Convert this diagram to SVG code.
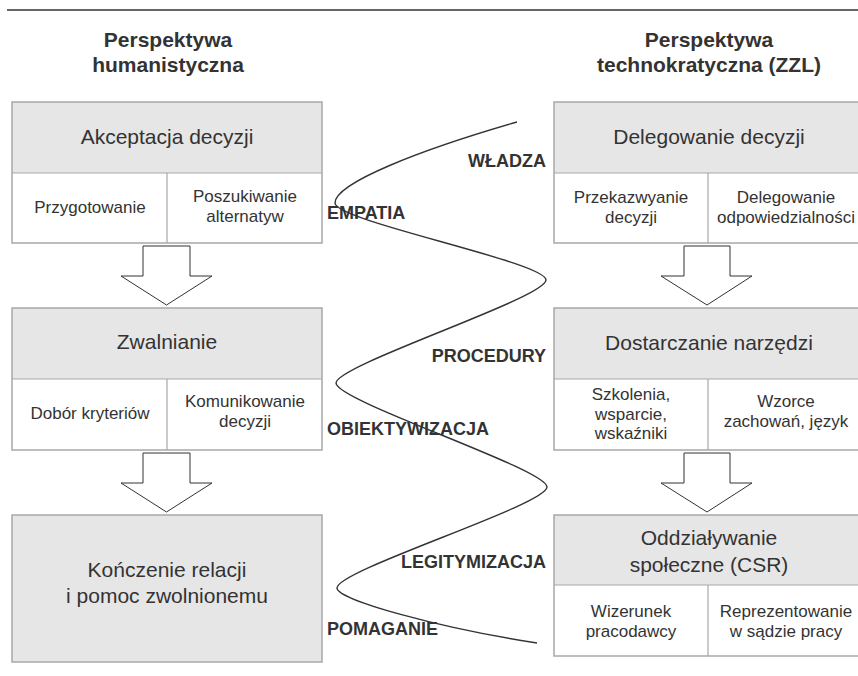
<svg xmlns="http://www.w3.org/2000/svg" width="858" height="676" viewBox="0 0 858 676">
<style>
.bg{fill:#fff}
.hdr{fill:#e6e6e6;stroke:none}
.box{fill:none;stroke:#a8a8a8;stroke-width:1.5}
.dv{stroke:#a8a8a8;stroke-width:1.2}
.t{font-family:"Liberation Sans",Arial,sans-serif;fill:#333;text-anchor:middle}
.h{font-size:21px}
.s{font-size:17px}
.ti{font-size:21px;font-weight:bold}
.lb{font-family:"Liberation Sans",Arial,sans-serif;font-size:18px;font-weight:bold;fill:#333}
.end{text-anchor:end}
.arr{fill:#fff;stroke:#333;stroke-width:1}
.curve{fill:none;stroke:#333;stroke-width:1.4}
</style>
<rect class="bg" x="0" y="0" width="858" height="676"/>
<line x1="7" y1="10" x2="858" y2="10" stroke="#333" stroke-width="1.5"/>

<g id="title-left">
<text class="t ti" x="168" y="47">Perspektywa</text>
<text class="t ti" x="168" y="72">humanistyczna</text>
</g>
<g id="title-right">
<text class="t ti" x="709" y="47">Perspektywa</text>
<text class="t ti" x="709" y="72">technokratyczna (ZZL)</text>
</g>

<g id="akceptacja">
<rect class="hdr" x="12" y="102" width="310" height="71"/>
<rect class="box" x="12" y="102" width="310" height="141"/>
<line class="dv" x1="12" y1="173" x2="322" y2="173"/>
<line class="dv" x1="167" y1="173" x2="167" y2="243"/>
<text class="t h" x="167" y="144">Akceptacja decyzji</text>
<text class="t s" x="90" y="213">Przygotowanie</text>
<text class="t s" x="245" y="202">Poszukiwanie</text>
<text class="t s" x="245" y="222">alternatyw</text>
</g>

<g id="zwalnianie">
<rect class="hdr" x="12" y="308" width="310" height="71"/>
<rect class="box" x="12" y="308" width="310" height="142"/>
<line class="dv" x1="12" y1="379" x2="322" y2="379"/>
<line class="dv" x1="167" y1="379" x2="167" y2="450"/>
<text class="t h" x="167" y="349">Zwalnianie</text>
<text class="t s" x="90" y="419">Dobór kryteriów</text>
<text class="t s" x="245" y="407">Komunikowanie</text>
<text class="t s" x="245" y="427">decyzji</text>
</g>

<g id="konczenie">
<rect class="hdr" x="12" y="515" width="310" height="147"/>
<rect class="box" x="12" y="515" width="310" height="147"/>
<text class="t h" x="167" y="577">Kończenie relacji</text>
<text class="t h" x="167" y="603">i pomoc zwolnionemu</text>
</g>

<g id="delegowanie">
<rect class="hdr" x="554" y="102" width="312" height="71"/>
<rect class="box" x="554" y="102" width="312" height="141"/>
<line class="dv" x1="554" y1="173" x2="866" y2="173"/>
<line class="dv" x1="708" y1="173" x2="708" y2="243"/>
<text class="t h" x="709" y="144">Delegowanie decyzji</text>
<text class="t s" x="631" y="203">Przekazwyanie</text>
<text class="t s" x="631" y="223">decyzji</text>
<text class="t s" x="786" y="203">Delegowanie</text>
<text class="t s" x="786" y="223">odpowiedzialności</text>
</g>

<g id="narzedzia">
<rect class="hdr" x="554" y="308" width="312" height="71"/>
<rect class="box" x="554" y="308" width="312" height="142"/>
<line class="dv" x1="554" y1="379" x2="866" y2="379"/>
<line class="dv" x1="708" y1="379" x2="708" y2="450"/>
<text class="t h" x="709" y="350">Dostarczanie narzędzi</text>
<text class="t s" x="631" y="400">Szkolenia,</text>
<text class="t s" x="631" y="420">wsparcie,</text>
<text class="t s" x="631" y="439">wskaźniki</text>
<text class="t s" x="786" y="407">Wzorce</text>
<text class="t s" x="786" y="427">zachowań, język</text>
</g>

<g id="csr">
<rect class="hdr" x="554" y="515" width="312" height="70"/>
<rect class="box" x="554" y="515" width="312" height="141"/>
<line class="dv" x1="554" y1="585" x2="866" y2="585"/>
<line class="dv" x1="708" y1="585" x2="708" y2="656"/>
<text class="t h" x="709" y="545">Oddziaływanie</text>
<text class="t h" x="709" y="572">społeczne (CSR)</text>
<text class="t s" x="631" y="617">Wizerunek</text>
<text class="t s" x="631" y="637">pracodawcy</text>
<text class="t s" x="786" y="617">Reprezentowanie</text>
<text class="t s" x="786" y="637">w sądzie pracy</text>
</g>

<g id="connectors">
<polygon class="arr" points="143,246 190,246 190,276 212,276 166.5,305 121,276 143,276"/>
<polygon class="arr" points="143,453 190,453 190,483 212,483 166.5,512 121,483 143,483"/>
<polygon class="arr" points="684,246 730,246 730,276 752,276 707,305 661,276 684,276"/>
<polygon class="arr" points="684,453 730,453 730,483 752,483 707,512 661,483 684,483"/>
</g>

<g id="wave">
<path class="curve" d="M517,122 C420,150 335,183 335,203 C335,221 546,262 546,280 C546,298 336,365 336,383 C336,401 547,469 547,487 C547,505 337,570 337,588 C337,600 440,628 537,643"/>
<text class="lb end" x="546" y="167">WŁADZA</text>
<text class="lb" x="327" y="219">EMPATIA</text>
<text class="lb end" x="546" y="362">PROCEDURY</text>
<text class="lb" x="327" y="435">OBIEKTYWIZACJA</text>
<text class="lb end" x="546" y="568">LEGITYMIZACJA</text>
<text class="lb" x="327" y="635">POMAGANIE</text>
</g>
</svg>
